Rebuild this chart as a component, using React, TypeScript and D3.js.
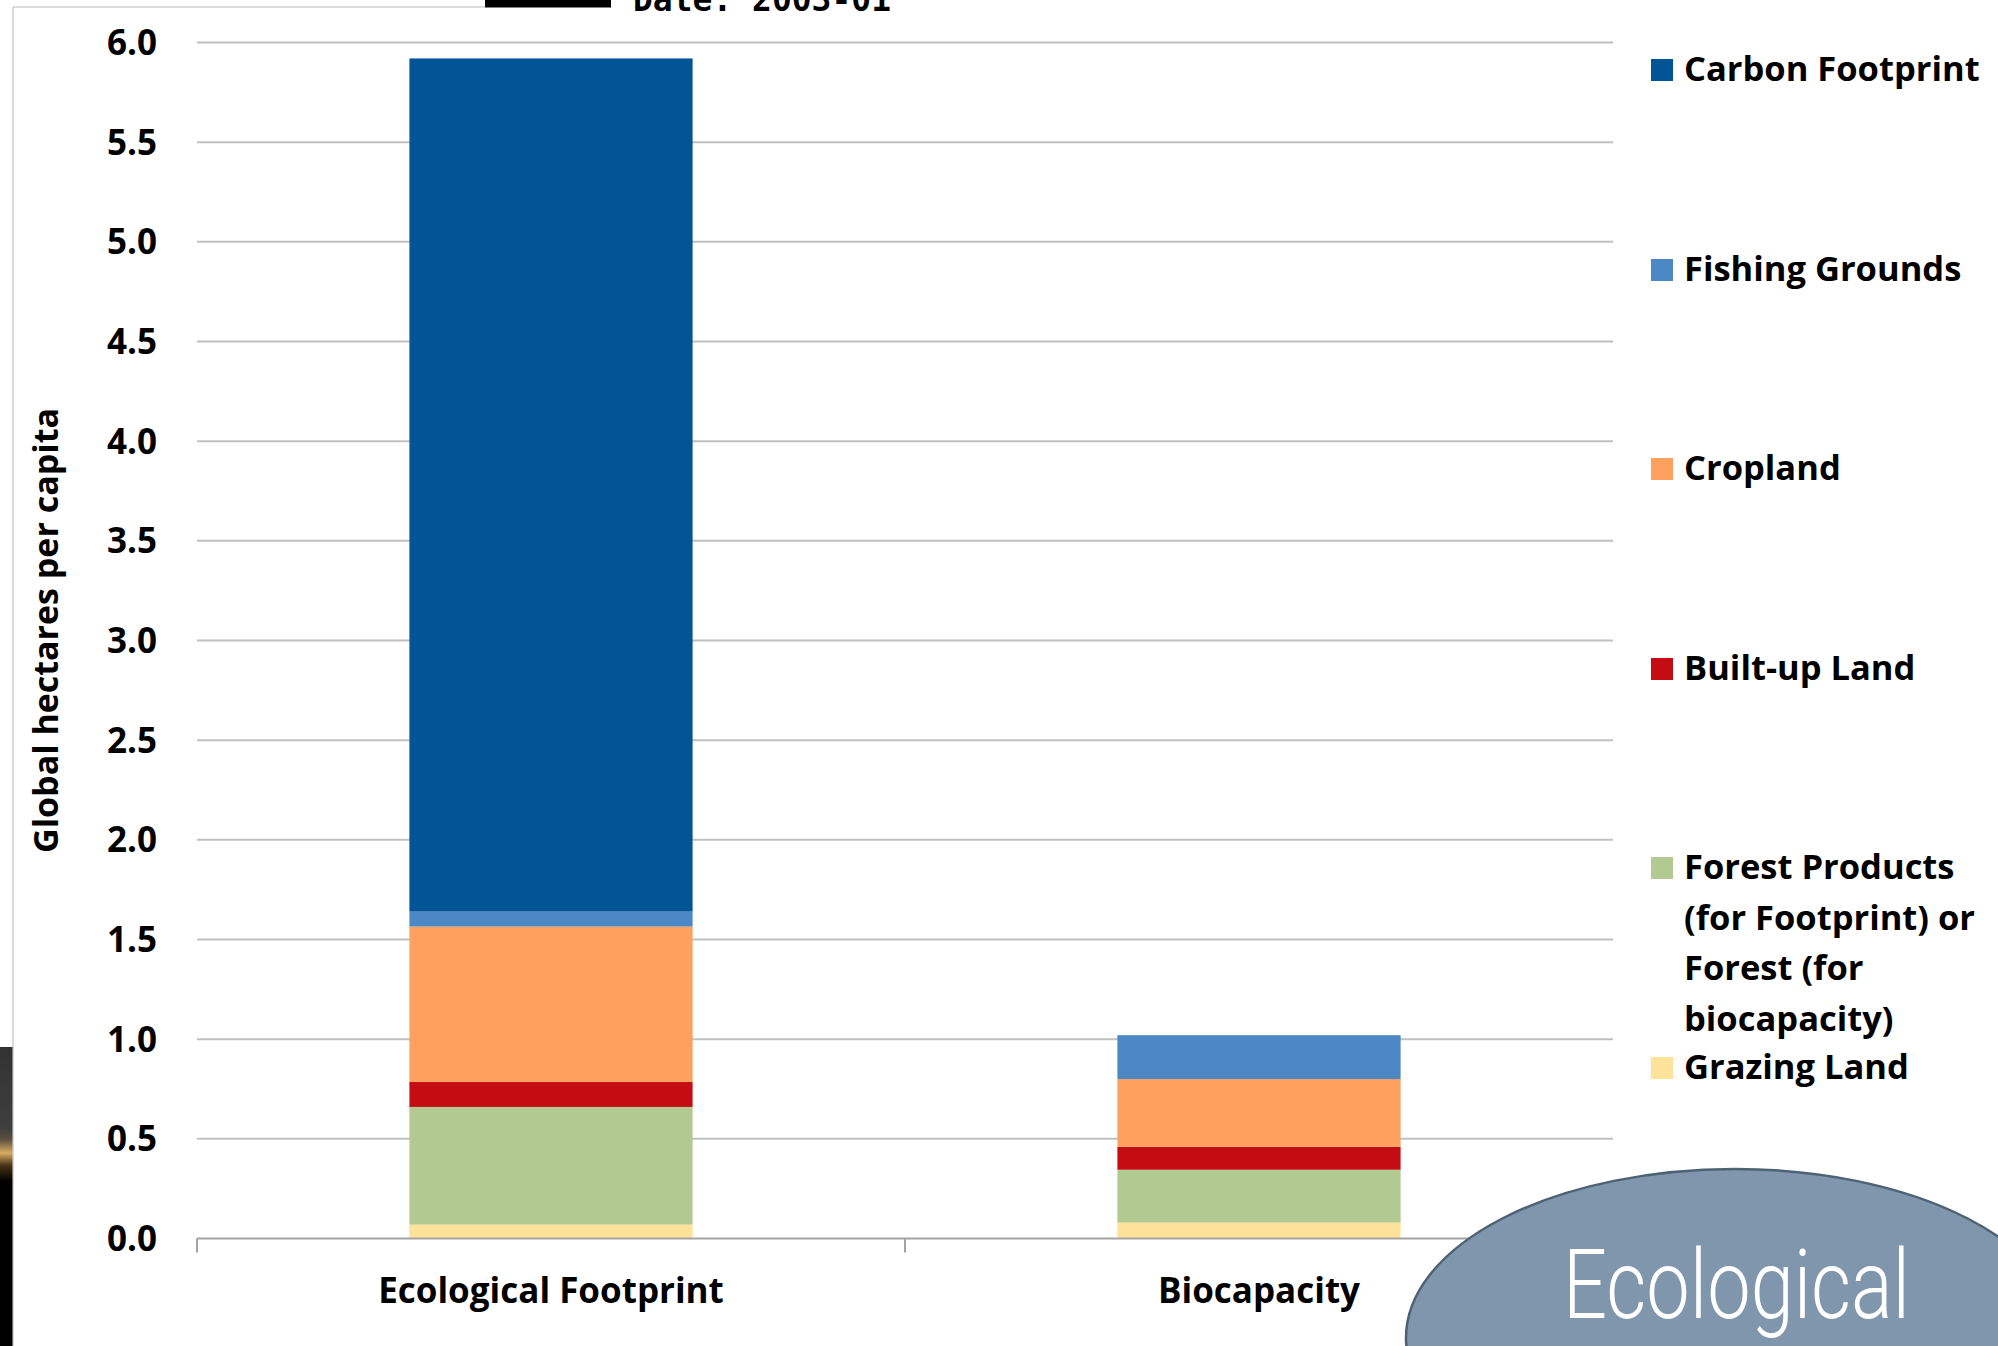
import React from "react";
import * as d3 from "d3";

// Per-capita footprint vs. biocapacity, split by land type (global hectares)
const categories = ["Ecological Footprint", "Biocapacity"];

const grazingLand = [0.07, 0.08];
const forest = [0.59, 0.265];
const builtUpLand = [0.125, 0.115];
const cropland = [0.78, 0.34];
const fishingGrounds = [0.075, 0.22];
const carbonFootprint = [4.28, 0];

// stacking order, bottom to top
const seriesKeys = ["grazing", "forest", "builtUp", "cropland", "fishing", "carbon"];
const seriesColors = ["#FFE29A", "#B2C991", "#C40D13", "#FFA15E", "#4B88C5", "#015596"];

// legend order, top to bottom
const legendKeys = ["carbon", "fishing", "cropland", "builtUp", "forest", "grazing"];
const legendLabels = [
  ["Carbon Footprint"],
  ["Fishing Grounds"],
  ["Cropland"],
  ["Built-up Land"],
  ["Forest Products", "(for Footprint) or", "Forest (for", "biocapacity)"],
  ["Grazing Land"],
];

const yTicks = [0, 0.5, 1, 1.5, 2, 2.5, 3, 3.5, 4, 4.5, 5, 5.5, 6];
const yTitle = "Global hectares per capita";

const W = 1998;
const H = 1346;
const FONT = "'Open Sans', Lato, sans-serif";

export default function App() {
  const rows = categories.map((c, i) => ({
    category: c,
    grazing: grazingLand[i],
    forest: forest[i],
    builtUp: builtUpLand[i],
    cropland: cropland[i],
    fishing: fishingGrounds[i],
    carbon: carbonFootprint[i],
  }));

  const stacked = d3.stack<any>().keys(seriesKeys)(rows);

  const x = d3
    .scaleBand<string>()
    .domain(categories)
    .range([197, 1613])
    .paddingInner(0.6)
    .paddingOuter(0.3);

  const y = d3.scaleLinear().domain([0, 6]).range([1238.5, 42.5]);

  const colorOf = d3.scaleOrdinal<string, string>().domain(seriesKeys).range(seriesColors);

  const step = x.step();
  const bandEdges = [x.range()[0], x.range()[0] + step, x.range()[1]];

  // legend baselines: one entry every 200px, wrapped lines 50px apart
  const legendBase = [81, 281, 480, 680, 879, 1079];

  return (
    <svg
      width={W}
      height={H}
      viewBox={`0 0 ${W} ${H}`}
      style={{ position: "absolute", left: 0, top: 0, background: "#fff" }}
    >
      <defs>
        <linearGradient id="stripGrad" x1="0" y1="0" x2="0" y2="1">
          <stop offset="0" stopColor="#323232" />
          <stop offset="0.27" stopColor="#3e3e3e" />
          <stop offset="0.31" stopColor="#5c513f" />
          <stop offset="0.355" stopColor="#d8ac62" />
          <stop offset="0.395" stopColor="#4a3519" />
          <stop offset="0.45" stopColor="#000" />
          <stop offset="1" stopColor="#000" />
        </linearGradient>
      </defs>
      <rect x={0} y={0} width={W} height={H} fill="#fff" />

      {/* frame fragments */}
      <line x1={13} y1={7} x2={485} y2={7} stroke="#d0d0d0" strokeWidth={1.5} />
      <line x1={13} y1={7} x2={13} y2={H} stroke="#cfcfcf" strokeWidth={1.5} />
      <rect x={0} y={1047} width={12.5} height={H - 1047} fill="url(#stripGrad)" />

      {/* header fragment */}
      <rect x={485} y={0} width={126} height={7.5} fill="#000" />
      <text
        x={633}
        y={11}
        fontFamily="'DejaVu Sans Mono', monospace"
        fontWeight={700}
        fontSize={33}
        fill="#000"
        textLength={258}
        lengthAdjust="spacingAndGlyphs"
      >
        Date: 2003-01
      </text>

      {/* gridlines */}
      {yTicks
        .filter((t) => t > 0)
        .map((t) => (
          <line
            key={t}
            x1={x.range()[0]}
            x2={x.range()[1]}
            y1={y(t)}
            y2={y(t)}
            stroke="#c0c0c0"
            strokeWidth={2}
          />
        ))}

      {/* stacked bars */}
      {stacked.map((s) => (
        <g key={s.key} fill={colorOf(s.key)}>
          {s.map((d, i) =>
            d[1] - d[0] > 0 ? (
              <rect
                key={i}
                x={x(categories[i])}
                width={x.bandwidth()}
                y={y(d[1])}
                height={y(d[0]) - y(d[1])}
              />
            ) : null
          )}
        </g>
      ))}

      {/* category axis */}
      <line
        x1={x.range()[0]}
        x2={x.range()[1]}
        y1={y(0)}
        y2={y(0)}
        stroke="#a3a3a3"
        strokeWidth={2}
      />
      {bandEdges.map((bx, i) => (
        <line key={i} x1={bx} x2={bx} y1={y(0)} y2={y(0) + 14} stroke="#a3a3a3" strokeWidth={2} />
      ))}
      {categories.map((c) => (
        <text
          key={c}
          x={(x(c) as number) + x.bandwidth() / 2}
          y={1303}
          textAnchor="middle"
          fontFamily={FONT}
          fontWeight={700}
          fontSize={35}
          fill="#000"
        >
          {c}
        </text>
      ))}

      {/* value axis labels */}
      {yTicks.map((t) => (
        <text
          key={t}
          x={157}
          y={y(t) + 12.5}
          textAnchor="end"
          fontFamily={FONT}
          fontWeight={700}
          fontSize={35}
          fill="#000"
        >
          {t.toFixed(1)}
        </text>
      ))}
      <text
        transform={`translate(58, 630.5) rotate(-90)`}
        textAnchor="middle"
        fontFamily={FONT}
        fontWeight={700}
        fontSize={34}
        fill="#000"
      >
        {yTitle}
      </text>

      {/* legend */}
      {legendKeys.map((k, i) => (
        <g key={k}>
          <rect x={1651} y={legendBase[i] - 22} width={22} height={22} fill={colorOf(k)} />
          {legendLabels[i].map((line, j) => (
            <text
              key={j}
              x={1684}
              y={legendBase[i] + j * 50.5}
              fontFamily={FONT}
              fontWeight={700}
              fontSize={34.5}
              fill="#000"
            >
              {line}
            </text>
          ))}
        </g>
      ))}

      {/* title bubble */}
      <ellipse cx={1735} cy={1338} rx={329} ry={169} fill="#7F96AC" stroke="#4E6275" strokeWidth={2.5} />
      <text
        x={1563}
        y={1318}
        fontFamily="Roboto, 'Open Sans', sans-serif"
        fontWeight={300}
        fontSize={97}
        fill="#fff"
        textLength={347}
        lengthAdjust="spacingAndGlyphs"
      >
        Ecological
      </text>
    </svg>
  );
}
